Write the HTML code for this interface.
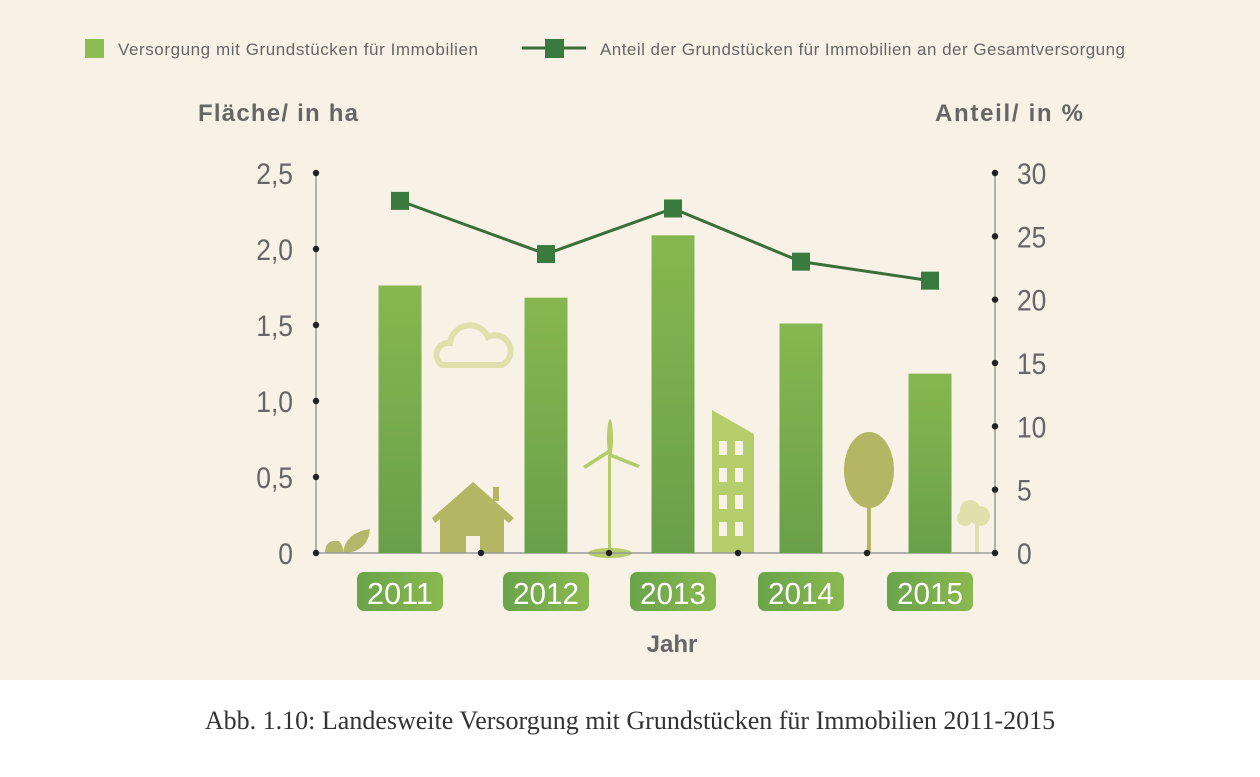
<!DOCTYPE html>
<html><head><meta charset="utf-8"><style>
body{margin:0;width:1260px;height:777px;background:#fff;font-family:"Liberation Sans",sans-serif;overflow:hidden}
#bg{position:absolute;left:0;top:0;width:1260px;height:680px;background:#f8f2e6}
#cap{position:absolute;left:0;top:706px;width:1260px;text-align:center;font-family:"Liberation Serif",serif;font-size:26px;color:#333}
</style></head><body>
<div id="bg"></div>
<svg id="chart" width="1260" height="680" style="position:absolute;left:0;top:0">
<defs>
<linearGradient id="bar" x1="0" y1="0" x2="0" y2="1"><stop offset="0" stop-color="#87b74f"/><stop offset="1" stop-color="#68a04a"/></linearGradient>
<linearGradient id="yb" x1="0" y1="0" x2="1" y2="0"><stop offset="0" stop-color="#6aa34a"/><stop offset="1" stop-color="#8ab94f"/></linearGradient>
</defs>
<g>
<rect x="85" y="39" width="19" height="19" fill="#8cbc52"/>
<text x="118" y="55" font-size="17" fill="#666" textLength="360">Versorgung mit Grundstücken für Immobilien</text>
<line x1="522" y1="48" x2="586" y2="48" stroke="#3a6e3a" stroke-width="3"/>
<rect x="545" y="39" width="19" height="19" fill="#3b7a3f"/>
<text x="600" y="55" font-size="17" fill="#666" textLength="525">Anteil der Grundstücken für Immobilien an der Gesamtversorgung</text>
</g>
<text x="198" y="121" font-size="24" font-weight="bold" fill="#666" textLength="160">Fläche/ in ha</text>
<text x="935" y="121" font-size="24" font-weight="bold" fill="#666" textLength="148">Anteil/ in %</text>
<text x="672" y="652" font-size="24" font-weight="bold" fill="#666" text-anchor="middle">Jahr</text>
<g id="icons">
<path d="M325 553 q0-14 14-12 q5 6 4 12 z M343 553 q2-20 27-24 q-2 22-24 24 z" fill="#b5b86a"/>
<path d="M432 518 l41-36 l41 36 l-5 5 l-5-4 v34 h-64 v-34 l-5 4 z M466 553 v-17 h14 v17 z" fill="#b4b664" fill-rule="evenodd"/>
<rect x="493" y="487" width="6" height="14" fill="#b4b664"/>
<g fill="#b6cb6a"><rect x="608" y="455" width="3" height="98"/><ellipse cx="610" cy="438" rx="3" ry="19"/><path d="M610 453 l30 12 l-2 3 l-30-12z M610 453 l-25 16 l-2-3 l25-16z"/><ellipse cx="610" cy="553" rx="22" ry="5"/></g>
<path d="M712 410 l42 24 v119 h-42z" fill="#b5cd6b"/>
<g fill="#f8f2e6"><rect x="719" y="441" width="8" height="14"/><rect x="735" y="441" width="8" height="14"/><rect x="719" y="468" width="8" height="14"/><rect x="735" y="468" width="8" height="14"/><rect x="719" y="495" width="8" height="14"/><rect x="735" y="495" width="8" height="14"/><rect x="719" y="522" width="8" height="14"/><rect x="735" y="522" width="8" height="14"/></g>
<ellipse cx="869" cy="470" rx="25" ry="38" fill="#b4b664"/><rect x="867" y="470" width="4" height="83" fill="#b4b664"/>
<g fill="#e0e0ad"><circle cx="970" cy="510" r="10"/><circle cx="980" cy="516" r="10"/><circle cx="965" cy="518" r="8"/><rect x="975" y="515" width="4" height="38"/></g>
<path d="M442 365 a12 12 0 0 1 8-22 a20 20 0 0 1 38-6 a14 14 0 0 1 14 28 z" fill="none" stroke="#e0e0ad" stroke-width="6"/>
</g>
<g id="axes"></g>
<g id="bars"></g>
<g id="line"></g>
<g id="xlab"></g>
</svg>
<div id="cap">Abb. 1.10: Landesweite Versorgung mit Grundstücken für Immobilien 2011-2015</div>
<script>
const categories=["2011","2012","2013","2014","2015"];
const areaValues=[1.76,1.68,2.09,1.51,1.18];
const shareValues=[27.8,23.6,27.2,23.0,21.5];
const leftTicks=[0,0.5,1.0,1.5,2.0,2.5];
const leftTickLabels=["0","0,5","1,0","1,5","2,0","2,5"];
const rightTicks=[0,5,10,15,20,25,30];
const NS="http://www.w3.org/2000/svg";
const y0=553,yTop=173;
const yL=v=>y0-(y0-yTop)*v/2.5;
const yR=v=>y0-(y0-yTop)*v/30;
const xPos=[400,546,673,801,930];
const xC=i=>xPos[i]!==undefined?xPos[i]:400+i*132;
function mk(tag,at,parent){const e=document.createElementNS(NS,tag);for(const k in at)e.setAttribute(k,at[k]);parent.appendChild(e);return e;}
const axes=document.getElementById('axes');
let l=mk('line',{x1:316,y1:yTop,x2:316,y2:y0,stroke:'#999','stroke-width':1.5},axes);

l=mk('line',{x1:995,y1:yTop,x2:995,y2:y0,stroke:'#999','stroke-width':1.5},axes);

l=mk('line',{x1:316,y1:y0,x2:995,y2:y0,stroke:'#999','stroke-width':1.5},axes);

leftTicks.forEach((v,i)=>{
 let c=mk('circle',{cx:316,cy:yL(v),r:3.2,fill:'#222'},axes);
 
 let t=mk('text',{x:293,y:yL(v)+11,'font-size':30,fill:'#666','text-anchor':'end',transform:'translate('+(293*0.12)+',0) scale(0.88,1)'},axes);
 t.setAttribute('x',293);t.textContent=leftTickLabels[i];
 
});
rightTicks.forEach(v=>{
 let t=mk('text',{x:1017,y:yR(v)+11,'font-size':30,fill:'#666',transform:'translate('+(1017*0.12)+',0) scale(0.88,1)'},axes);t.textContent=String(v);
 
 let c=mk('circle',{cx:995,cy:yR(v),r:3.2,fill:'#222'},axes);
 
});
[481,609,738,867].forEach(x=>{let c=mk('circle',{cx:x,cy:y0,r:3.2,fill:'#222'},axes);});
const bars=document.getElementById('bars'),xl=document.getElementById('xlab');
categories.forEach((c,i)=>{
 let r=mk('rect',{x:xC(i)-21.5,y:yL(areaValues[i]),width:43,height:y0-yL(areaValues[i]),fill:'url(#bar)'},bars);
 
 let b=mk('rect',{x:xC(i)-43,y:572,width:86,height:39,rx:7,fill:'url(#yb)'},xl);
 
 let t=mk('text',{x:xC(i),y:604,'font-size':31,fill:'#fff','text-anchor':'middle',textLength:66,lengthAdjust:'spacingAndGlyphs'},xl);t.textContent=c;
 
});
const ln=document.getElementById('line');
let p=mk('polyline',{points:shareValues.map((v,i)=>xC(i)+','+yR(v)).join(' '),fill:'none',stroke:'#3a6e3a','stroke-width':3},ln);

shareValues.forEach((v,i)=>{
 let m=mk('rect',{x:xC(i)-9,y:yR(v)-9,width:18,height:18,fill:'#3b7a3f'},ln);
 
});
</script>
</body></html>
